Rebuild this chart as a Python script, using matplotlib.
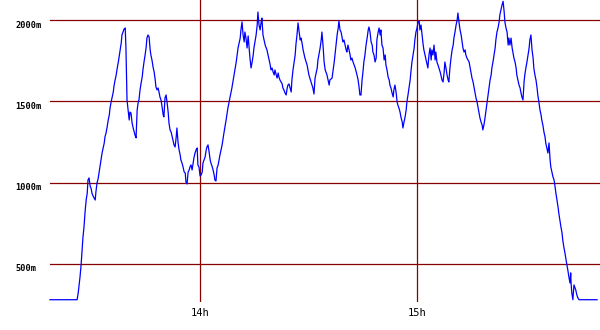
import matplotlib
matplotlib.use("Agg")
import matplotlib.pyplot as plt
from matplotlib.transforms import ScaledTranslation

# load samples, time in minutes after 13:00, value in milli-units
minutes = [
    18.5, 26.0, 26.3, 26.5, 26.8, 27.1, 27.4, 27.6, 27.9, 28.2, 28.5, 28.8, 29.0, 29.3, 29.6, 29.9, 30.1, 30.4, 30.7, 31.0,
    31.2, 31.5, 31.8, 32.1, 32.3, 32.6, 32.9, 33.2, 33.5, 33.7, 34.0, 34.3, 34.6, 34.9, 35.1, 35.4, 35.7, 36.0, 36.2, 36.5,
    36.8, 37.1, 37.4, 37.6, 37.9, 38.2, 38.4, 38.7, 39.0, 39.3, 39.5, 39.8, 40.1, 40.4, 40.6, 40.9, 41.2, 41.5, 41.8, 42.0,
    42.3, 42.6, 42.9, 43.1, 43.4, 43.7, 44.0, 44.2, 44.5, 44.8, 45.1, 45.3, 45.6, 45.9, 46.2, 46.4, 46.7, 47.0, 47.3, 47.6,
    47.8, 48.1, 48.4, 48.7, 48.9, 49.2, 49.5, 49.8, 50.0, 50.3, 50.6, 50.9, 51.2, 51.4, 51.7, 52.0, 52.3, 52.5, 52.8, 53.1,
    53.4, 53.6, 53.9, 54.2, 54.5, 54.7, 55.0, 55.3, 55.6, 55.9, 56.1, 56.4, 56.7, 57.0, 57.2, 57.5, 57.8, 58.1, 58.3, 58.6,
    58.9, 59.2, 59.4, 59.7,
    60.0, 60.3, 60.6, 60.8, 61.1, 61.4, 61.7, 61.9, 62.2, 62.5, 62.8, 63.0, 63.3, 63.6, 63.9, 64.1, 64.4, 64.7, 65.0, 65.5,
    66.1, 66.6, 67.2, 67.7, 68.3, 68.8, 69.4, 70.0, 70.5, 71.1, 71.3, 71.6, 71.9, 72.2, 72.4, 72.7, 73.0, 73.3, 73.5, 73.8,
    74.1, 74.4, 74.7, 74.9, 75.5, 75.8, 76.0, 76.3, 76.6, 76.9, 77.1, 77.4, 77.7, 78.0, 78.5, 78.8, 79.1, 79.4, 79.6, 79.9,
    80.2, 80.5, 80.7, 81.0, 81.3, 81.6, 81.8, 82.1, 82.7, 82.9, 83.2, 83.5, 83.8, 84.1, 84.3, 84.6, 84.9, 85.2, 85.4, 85.7,
    86.3, 86.5, 86.8, 87.1, 87.4, 87.7, 87.9, 88.2, 88.5, 89.0, 89.6, 90.1, 90.7, 91.2, 91.5, 91.8, 92.4, 92.6, 93.2, 93.5,
    93.7, 94.0, 94.3, 94.6, 94.8, 95.1, 95.4, 95.7, 95.9, 96.5, 96.8, 97.1, 97.3, 97.6, 97.9, 98.2, 98.4, 98.7, 99.0, 99.3,
    99.5, 99.8, 100.1, 100.4, 100.6, 100.9, 101.2, 101.5, 101.7, 102.0, 102.3, 102.9, 103.4, 103.7, 104.0, 104.2, 104.5, 104.8, 105.1, 105.3,
    105.6, 105.9, 106.2, 106.5, 106.7, 107.0, 107.3, 107.6, 107.8, 108.1, 108.4, 108.7, 108.9, 109.2, 109.5, 109.8, 110.0, 110.3, 110.6, 110.9,
    111.2, 111.4, 111.7, 112.0, 112.3, 112.5, 112.8, 113.1, 113.4, 113.6, 113.9, 114.2, 114.5, 114.7, 115.0, 115.3, 115.6, 115.9, 116.1, 116.4,
    116.7, 117.0, 117.2, 117.5, 118.1, 118.3, 118.6, 118.9, 119.2, 119.4, 119.7, 120.0, 120.3, 120.6, 120.8, 121.1, 121.4, 121.7, 121.9, 122.2,
    122.5, 122.8, 123.0, 123.3, 123.6, 123.9, 124.1, 124.4, 124.7, 125.0, 125.2, 125.5, 125.8, 126.4, 126.6, 126.9, 127.2, 127.5, 127.7, 128.0,
    128.3, 128.6, 128.8, 129.1, 129.4, 129.7, 130.0, 130.2, 130.5, 130.8, 131.1, 131.3, 131.6, 131.9, 132.2, 132.4, 132.7, 133.0, 133.3, 133.5,
    133.8, 134.1, 134.4, 134.7, 134.9, 135.2, 135.5, 135.8, 136.0, 136.3, 136.6, 136.9, 137.1, 137.4, 137.7, 138.0, 138.2, 138.5, 138.8, 139.1,
    139.4, 139.6, 139.9, 140.2, 140.5, 140.7, 141.0, 141.3, 141.6, 141.8, 142.1, 142.4, 142.7, 142.9, 143.2, 143.5, 143.8, 144.1, 144.3, 144.6,
    144.9, 145.2, 145.4, 145.7, 146.0, 146.3, 146.5, 146.8, 147.1, 147.4, 147.6, 147.9, 148.2, 148.5, 148.7, 149.0, 149.3, 149.6, 149.8, 150.1,
    150.4, 150.7, 151.0, 151.2, 151.5, 151.8, 152.1, 152.3, 152.6, 152.9, 153.2, 153.4,
    153.7, 154.0, 154.3, 154.5, 154.8, 155.1, 155.4, 155.6, 155.9, 156.2, 156.5, 156.8, 157.0, 157.3, 157.6, 157.9, 158.1, 158.4, 158.7, 159.0,
    159.2, 159.5, 159.8, 160.1, 160.3, 160.6, 160.9, 161.2, 161.4, 161.7, 162.0, 162.3, 162.5, 162.6, 162.8, 163.1, 163.4, 163.7, 163.9, 164.2,
    164.5, 164.8, 169.8,
]
load = [
    280, 280, 322, 359, 420, 494, 598, 660, 727, 820, 893, 936, 1016, 1029, 979, 961, 936, 918, 906, 893,
    943, 998, 1023, 1066, 1096, 1139, 1182, 1213, 1244, 1281, 1305, 1342, 1385, 1416, 1459, 1496, 1527, 1557, 1594, 1631,
    1662, 1705, 1742, 1773, 1816, 1859, 1908, 1926, 1945, 1951, 1828, 1508, 1447, 1385, 1434, 1428, 1367, 1336, 1311, 1293,
    1275, 1447, 1496, 1508, 1570, 1613, 1650, 1693, 1742, 1785, 1834, 1889, 1908, 1896, 1816, 1785, 1754, 1711, 1680, 1631,
    1588, 1570, 1582, 1551, 1527, 1508, 1465, 1416, 1404, 1521, 1539, 1490, 1428, 1367, 1324, 1311, 1281, 1262, 1232, 1219,
    1281, 1336, 1250, 1201, 1170, 1139, 1121, 1096, 1066, 1059, 1004, 992, 1066, 1078, 1096, 1109, 1078, 1121, 1152, 1182,
    1201, 1213, 1109, 1096,
    1041, 1047, 1066, 1121, 1139, 1158, 1201, 1219, 1232, 1188, 1139, 1121, 1102, 1078, 1047, 1016, 1010, 1090, 1109, 1170,
    1232, 1305, 1385, 1459, 1527, 1582, 1662, 1742, 1828, 1889, 1939, 1988, 1908, 1865, 1926, 1889, 1828, 1902, 1846, 1766,
    1705, 1742, 1785, 1828, 1908, 1969, 2049, 1969, 1939, 1988, 2012, 1908, 1877, 1846, 1816, 1785, 1754, 1723, 1693, 1705,
    1680, 1662, 1693, 1668, 1643, 1674, 1650, 1631, 1607, 1582, 1570, 1551, 1539, 1582, 1600, 1607, 1582, 1557, 1631, 1693,
    1785, 1846, 1908, 1982, 1926, 1877, 1889, 1859, 1816, 1766, 1723, 1662, 1619, 1582, 1545, 1643, 1705, 1754, 1828, 1877,
    1926, 1846, 1742, 1693, 1680, 1662, 1631, 1600, 1631, 1643, 1693, 1742, 1785, 1846, 1908, 1951, 1994, 1939, 1926, 1889,
    1865, 1877, 1846, 1816, 1803, 1846, 1816, 1785, 1754, 1766, 1742, 1705, 1662, 1631, 1582, 1539, 1539, 1631, 1693, 1742,
    1785, 1846, 1889, 1939, 1957, 1926, 1865, 1846, 1803, 1785, 1742, 1766, 1877, 1920, 1951, 1908, 1939, 1846, 1828, 1754,
    1785, 1723, 1693, 1650, 1631, 1600, 1582, 1551, 1527, 1570, 1600, 1557, 1496, 1477, 1459, 1434, 1398, 1373, 1336, 1373,
    1404, 1447, 1496, 1539, 1631, 1680, 1742, 1785, 1828, 1877, 1926, 1951, 1988, 1994, 1939, 1969, 1908, 1846, 1816, 1785,
    1754, 1723, 1705, 1785, 1828, 1754, 1816, 1785, 1846, 1754, 1803, 1742, 1723, 1680, 1662, 1631, 1619, 1680, 1742, 1705,
    1662, 1631, 1619, 1705, 1766, 1816, 1846, 1889, 1926, 1969, 2000, 2043, 1988, 1939, 1908, 1877, 1828, 1803, 1816, 1785,
    1766, 1754, 1742, 1705, 1680, 1643, 1619, 1582, 1557, 1521, 1496, 1459, 1434, 1398, 1373, 1354, 1324, 1354, 1398, 1447,
    1496, 1527, 1582, 1631, 1662, 1705, 1742, 1785, 1828, 1877, 1926, 1951, 1988, 2031, 2062, 2092, 2115, 2049, 1988, 1951,
    1926, 1846, 1889, 1846, 1889, 1828, 1803, 1766, 1742, 1705, 1662, 1631, 1600, 1582, 1557, 1527, 1508, 1619, 1662, 1705,
    1742, 1785, 1828, 1877, 1908, 1816, 1766, 1705, 1662, 1631, 1582, 1539,
    1496, 1447, 1416, 1385, 1354, 1311, 1281, 1244, 1213, 1182, 1244, 1139, 1096, 1066, 1035, 1016, 986, 936, 893, 850,
    813, 770, 727, 691, 647, 604, 568, 525, 500, 463, 420, 383, 445, 383, 322, 280, 371, 352, 340, 309,
    291, 280, 280,
]

hour_ticks = [60, 120]
hour_labels = ["14h", "15h"]
load_ticks = [500, 1000, 1500, 2000]
load_labels = ["500m", "1000m", "1500m", "2000m"]

fig = plt.figure(figsize=(6, 3.3), dpi=100, facecolor='white')
ax = fig.add_axes([50 / 600, 28 / 330, 550 / 600, 302 / 330])
ax.set_facecolor('white')
ax.set_xlim(18.5, 170.6)
ax.set_ylim(266, 2123)

for spine in ax.spines.values():
    spine.set_visible(False)

# dark red grid, only at the labelled ticks
ax.set_xticks(hour_ticks, hour_labels)
ax.set_yticks(load_ticks, load_labels)
ax.tick_params(length=0)
ax.grid(color='#880000', linewidth=0.9)
ax.set_axisbelow(True)

ax.plot(minutes, load, color='#0000ff', linewidth=0.9, clip_on=False)

# tick labels: small mono font, y labels left aligned and a bit below the line
for lab in ax.get_xticklabels():
    lab.set_fontfamily('DejaVu Sans Mono')
    lab.set_fontsize(7.5)
    lab.set_transform(lab.get_transform() + ScaledTranslation(3 / 100, 0, fig.dpi_scale_trans))
ax.tick_params(axis='x', pad=4.5)

ax.tick_params(axis='y', pad=25.2)
for lab in ax.get_yticklabels():
    lab.set_fontfamily('DejaVu Sans Mono')
    lab.set_fontsize(6.2)
    lab.set_fontweight('bold')
    lab.set_horizontalalignment('left')
    lab.set_transform(lab.get_transform() + ScaledTranslation(0, -4 / 100, fig.dpi_scale_trans))

fig.savefig('out.png', dpi=100, facecolor='white')
